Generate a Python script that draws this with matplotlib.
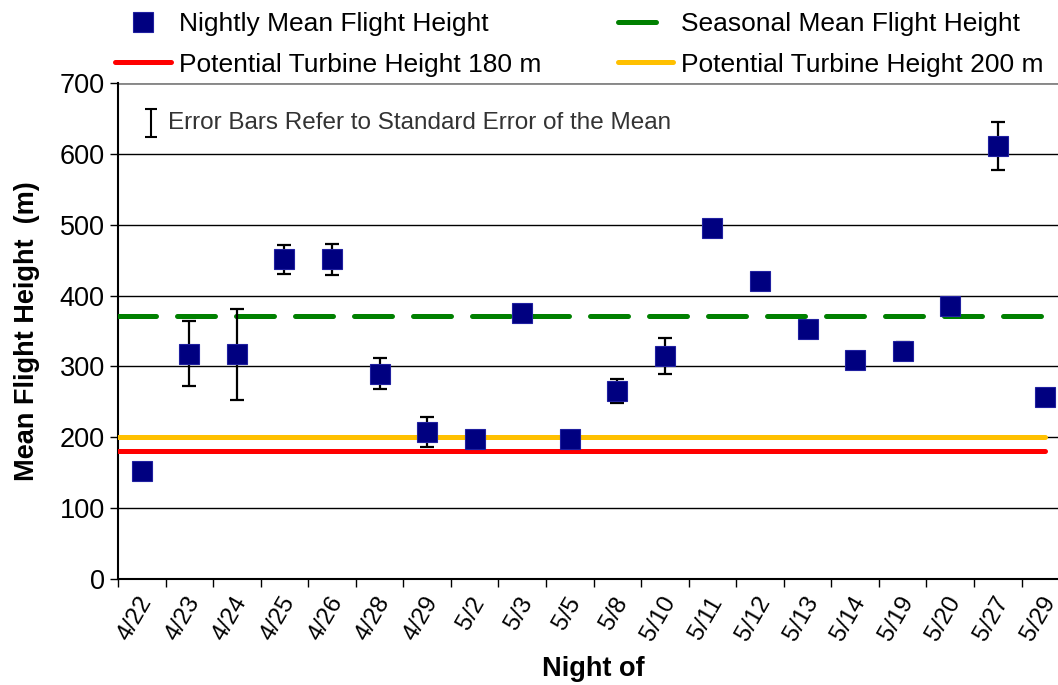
import matplotlib.pyplot as plt
import matplotlib.transforms as mtransforms
import numpy as np

plt.rcParams['font.family'] = ['Liberation Sans', 'DejaVu Sans']

# Nightly values
nights = ['4/22', '4/23', '4/24', '4/25', '4/26', '4/28', '4/29', '5/2', '5/3', '5/5',
          '5/8', '5/10', '5/11', '5/12', '5/13', '5/14', '5/19', '5/20', '5/27', '5/29']
mean_height = [152, 318, 317, 451, 451, 290, 207, 197, 375, 197,
               265, 315, 496, 420, 353, 309, 322, 385, 611, 257]
std_err = [0, 46, 64, 21, 22, 22, 21, 10, 0, 10,
           17, 25, 0, 0, 0, 0, 12, 0, 34, 0]
seasonal_mean = 371
turbine_180 = 180
turbine_200 = 200

fig = plt.figure(figsize=(10.58, 6.85), dpi=100)
ax = fig.add_axes([0.1115, 0.1547, 0.899, 0.7241])

x = np.arange(len(nights))
line_x = [-0.5, len(nights) - 1]

ax.plot(line_x, [turbine_200, turbine_200], color='#FFC000', lw=3.6,
        solid_capstyle='round', label='Potential Turbine Height 200 m', zorder=3)
ax.plot(line_x, [turbine_180, turbine_180], color='#FF0000', lw=3.6,
        solid_capstyle='round', label='Potential Turbine Height 180 m', zorder=3)
ax.plot(line_x, [seasonal_mean, seasonal_mean], color='#008000', lw=3.6,
        dashes=(7.6, 4.2), dash_capstyle='round', label='Seasonal Mean Flight Height', zorder=3)

ax.errorbar(x, mean_height, yerr=std_err, fmt='none', ecolor='black',
            elinewidth=1.6, capsize=4.8, capthick=1.6, zorder=4)
ax.plot(x, mean_height, linestyle='none', marker='s', markersize=14,
        color='#000080', markeredgecolor='#2020a0', markeredgewidth=0.8,
        label='Nightly Mean Flight Height', zorder=5)

ax.set_xlim(-0.5, len(nights) - 0.5)
ax.set_ylim(0, 700)
ax.set_yticks(range(0, 701, 100))
ax.yaxis.grid(True, color='black', lw=1)
ax.set_axisbelow(True)
ax.set_xticks(x)
ax.set_xticklabels(nights, rotation=60, ha='right', rotation_mode='anchor', fontsize=17.5)
ax.set_xticks(np.arange(-0.5, len(nights), 1), minor=True)
ax.tick_params(axis='x', which='major', length=0, pad=10)
ax.tick_params(axis='x', which='minor', length=6, width=1, direction='out')
ax.tick_params(axis='y', labelsize=19.5, length=6, width=1)

# nudge the rotated labels a touch left so the last one stays inside the figure
shift = mtransforms.ScaledTranslation(-4 / 100, 0, fig.dpi_scale_trans)
for lbl in ax.get_xticklabels():
    lbl.set_transform(lbl.get_transform() + shift)

for s in ['top', 'right']:
    ax.spines[s].set_visible(False)
ax.spines['left'].set_linewidth(1.5)
ax.spines['bottom'].set_linewidth(1.5)
ax.axhline(700, color='#888888', lw=2, zorder=1)

ax.set_ylabel('Mean Flight Height  (m)', fontsize=19.5, fontweight='bold', labelpad=14)
ax.set_xlabel('Night of', fontsize=19.5, fontweight='bold', labelpad=8)

# error bar note
ax.errorbar([0.2], [644], yerr=[[20], [20]], fmt='none', ecolor='black',
            elinewidth=1.5, capsize=4, capthick=1.5)
ax.text(0.55, 644, 'Error Bars Refer to Standard Error of the Mean', fontsize=17.5,
        va='center', ha='left', color='#333333')

handles, labels = ax.get_legend_handles_labels()
order = [3, 1, 2, 0]
fig.legend([handles[i] for i in order], [labels[i] for i in order],
           loc='upper left', bbox_to_anchor=(0.109, 0.982), ncol=2, frameon=False,
           fontsize=19, handlelength=2.1, handletextpad=0.3, columnspacing=2.9,
           labelspacing=0.62, borderpad=0, borderaxespad=0)

fig.savefig('out.png', dpi=100)
